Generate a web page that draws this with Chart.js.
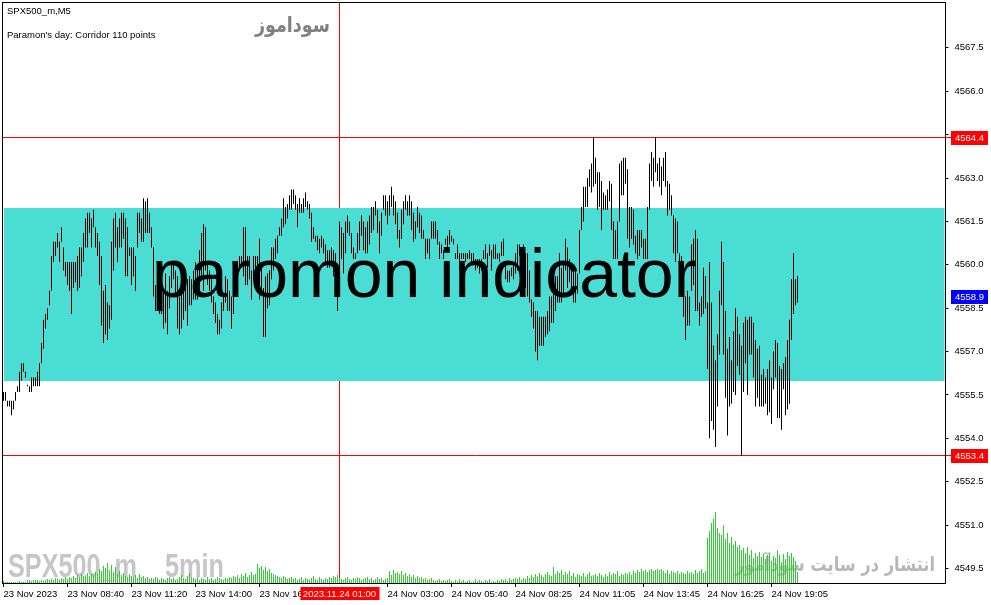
<!DOCTYPE html>
<html>
<head>
<meta charset="utf-8">
<script src="https://cdn.jsdelivr.net/npm/chart.js@4.4.1/dist/chart.umd.min.js"></script>
<style>
html, body { margin: 0; padding: 0; background: #fff; }
</style>
</head>
<body>
<canvas id="chart" width="991" height="605"></canvas>
<script>
// SPX500_m M5 bars (high / low), 23-24 Nov 2023
const highs = [
  4555.6,4555.6,4555.3,4555.3,4555.3,4555.3,4555.6,4555.8,4556.3,4556.6,
  4556.6,4556.3,4555.85,4555.8,4556.1,4556.1,4556.1,4556.3,4556.6,4557.3,
  4558.1,4558.3,4558.5,4559.1,4560.3,4560.8,4560.8,4561.1,4560.8,4561.3,
  4560.6,4560.1,4560.1,4560.1,4560.1,4560.1,4560.1,4560.3,4560.6,4560.6,
  4561.1,4561.6,4561.8,4561.8,4561.6,4561.9,4561.3,4561.1,4560.8,4560.3,
  4559.1,4559.3,4558.7,4558.6,4560.8,4561.6,4561.8,4561.3,4561.6,4561.8,
  4561.8,4561.6,4561.3,4560.6,4560.6,4560.6,4560.3,4561.8,4561.8,4561.6,
  4562.3,4562.2,4562.3,4561.8,4561.3,4560.6,4559.3,4560.1,4559.1,4558.9,
  4559.1,4559.7,4559.1,4559.6,4560.0,4560.1,4559.8,4559.6,4558.9,4559.5,
  4559.6,4559.8,4559.5,4559.6,4559.5,4559.8,4560.1,4559.9,4560.5,4561.1,
  4561.4,4561.3,4560.1,4559.8,4559.5,4558.9,4558.7,4558.3,4558.1,4558.7,
  4559.0,4559.6,4559.5,4559.1,4558.9,4558.9,4559.9,4560.1,4560.3,4560.3,
  4561.3,4561.3,4560.3,4560.3,4559.8,4560.3,4560.3,4560.3,4560.9,4559.9,
  4559.2,4559.6,4559.7,4559.8,4560.6,4560.6,4560.9,4561.0,4561.3,4561.6,
  4562.3,4562.0,4562.1,4562.4,4562.6,4562.6,4562.4,4562.1,4562.3,4562.1,
  4562.3,4562.5,4562.2,4562.1,4561.8,4561.3,4561.0,4561.0,4560.9,4561.0,
  4560.9,4560.7,4560.5,4560.5,4560.6,4560.5,4560.4,4559.8,4561.5,4561.3,
  4561.1,4561.5,4561.7,4561.5,4561.1,4560.6,4560.4,4561.1,4561.5,4561.7,
  4561.5,4561.3,4561.5,4561.7,4562.0,4562.0,4562.2,4561.9,4561.5,4561.8,
  4562.4,4562.4,4562.2,4562.4,4562.7,4562.4,4562.2,4561.8,4561.2,4561.9,
  4562.2,4562.4,4562.2,4562.4,4562.2,4561.8,4561.5,4562.0,4561.8,4561.7,
  4561.2,4560.9,4560.9,4560.9,4561.5,4561.5,4561.5,4561.2,4560.8,4560.7,
  4560.5,4560.9,4561.0,4561.2,4561.0,4560.9,4560.4,4560.7,4560.4,4560.4,
  4560.4,4560.4,4560.4,4560.5,4560.4,4560.4,4560.2,4560.2,4560.2,4560.2,
  4560.5,4560.7,4560.4,4560.7,4560.5,4560.7,4560.7,4560.4,4560.4,4560.8,
  4560.9,4560.1,4559.8,4559.8,4559.9,4560.1,4560.4,4560.7,4560.7,4560.6,
  4560.7,4560.4,4560.4,4559.8,4558.8,4558.7,4558.4,4558.4,4558.2,4558.2,
  4558.2,4558.2,4558.4,4558.9,4558.9,4559.2,4559.6,4559.6,4560.4,4559.9,
  4560.1,4560.9,4560.6,4560.2,4559.9,4559.9,4559.8,4559.7,4561.2,4562.0,
  4562.7,4562.7,4563.0,4563.3,4563.5,4564.4,4563.7,4563.2,4563.2,4562.9,
  4562.5,4562.4,4562.6,4562.9,4562.8,4561.5,4561.2,4561.5,4563.5,4563.6,
  4563.7,4563.7,4563.3,4562.0,4562.0,4561.9,4561.0,4561.2,4561.2,4561.2,
  4560.9,4560.9,4562.0,4563.5,4563.9,4563.7,4564.4,4563.5,4563.7,4563.4,
  4563.7,4563.9,4562.9,4562.8,4562.4,4561.7,4561.6,4561.5,4560.4,4560.3,
  4560.1,4558.9,4559.1,4558.9,4560.7,4560.9,4561.2,4560.9,4558.7,4558.9,
  4559.9,4559.6,4558.7,4560.1,4558.7,4557.2,4556.7,4557.6,4559.1,4560.8,
  4560.1,4558.4,4557.1,4557.5,4556.7,4557.7,4558.5,4558.2,4557.6,4557.2,
  4558.0,4558.2,4558.1,4558.2,4558.2,4558.0,4557.4,4557.1,4557.2,4556.2,
  4556.4,4556.1,4556.4,4556.7,4556.1,4557.0,4557.4,4557.3,4556.5,4556.4,
  4556.6,4556.8,4557.4,4558.1,4559.5,4560.4,4559.5,4559.6
];
const lows = [
  4555.3,4555.3,4555.1,4555.1,4554.8,4555.0,4555.3,4555.6,4555.6,4556.0,
  4556.3,4556.1,4555.8,4555.6,4555.6,4555.8,4555.8,4555.8,4555.8,4556.6,
  4557.1,4557.8,4558.1,4558.6,4559.1,4560.1,4560.3,4560.6,4560.1,4560.8,
  4559.8,4559.6,4559.3,4559.1,4558.3,4559.2,4559.4,4559.1,4559.2,4559.6,
  4560.1,4560.6,4560.6,4561.1,4560.6,4561.3,4560.6,4560.3,4559.3,4557.9,
  4557.3,4557.6,4557.4,4557.8,4558.1,4559.8,4560.6,4560.1,4560.6,4560.6,
  4560.9,4559.6,4559.6,4560.3,4559.3,4559.6,4559.1,4560.6,4561.1,4560.8,
  4560.8,4561.1,4561.1,4561.1,4560.6,4558.9,4558.4,4558.4,4558.3,4558.3,
  4557.8,4558.0,4557.6,4558.5,4559.2,4559.5,4559.0,4557.8,4557.6,4557.8,
  4558.1,4558.4,4557.9,4558.6,4558.6,4558.8,4558.8,4558.8,4559.0,4559.5,
  4559.1,4559.8,4559.3,4559.1,4558.7,4558.3,4558.0,4557.6,4557.6,4557.8,
  4558.4,4558.7,4558.4,4558.4,4557.8,4558.3,4559.3,4559.5,4559.8,4559.9,
  4559.6,4559.3,4559.3,4559.5,4558.8,4559.5,4559.5,4559.1,4558.8,4559.0,
  4557.5,4557.5,4558.5,4558.6,4559.5,4559.8,4560.2,4560.4,4561.0,4561.0,
  4561.3,4561.4,4561.6,4561.9,4561.9,4562.1,4561.9,4561.3,4561.8,4561.8,
  4561.8,4562.0,4561.9,4561.6,4560.8,4560.9,4560.8,4560.5,4560.4,4560.6,
  4560.4,4560.1,4559.9,4559.9,4560.1,4559.6,4559.5,4558.4,4558.9,4560.2,
  4559.7,4560.4,4561.1,4561.0,4560.4,4560.2,4560.2,4560.4,4560.5,4561.0,
  4560.5,4560.4,4560.4,4560.7,4561.1,4561.2,4561.7,4561.1,4560.4,4561.0,
  4561.9,4561.7,4561.4,4561.7,4562.0,4561.7,4561.4,4560.9,4560.6,4560.9,
  4561.4,4561.9,4561.7,4561.7,4561.2,4560.8,4560.9,4561.3,4561.1,4560.9,
  4560.9,4560.2,4560.4,4560.2,4560.9,4560.9,4560.9,4560.7,4560.2,4560.4,
  4560.2,4560.7,4560.5,4560.7,4560.8,4560.7,4560.2,4560.2,4559.8,4560.2,
  4560.2,4560.1,4560.2,4560.2,4560.1,4560.1,4559.8,4559.9,4559.7,4559.8,
  4560.2,4560.2,4559.9,4560.3,4559.8,4560.2,4560.2,4560.2,4560.1,4560.3,
  4560.3,4559.5,4559.4,4559.4,4559.6,4559.5,4559.7,4559.8,4560.3,4560.3,
  4560.3,4559.2,4558.9,4558.7,4558.2,4557.8,4557.0,4556.7,4557.2,4557.2,
  4557.2,4557.5,4557.6,4557.7,4558.0,4558.0,4558.4,4558.7,4558.7,4558.7,
  4559.0,4559.8,4559.2,4559.4,4559.1,4558.7,4558.7,4559.0,4559.7,4561.2,
  4561.5,4562.0,4562.0,4562.7,4562.5,4562.7,4562.8,4561.9,4562.0,4561.2,
  4561.9,4561.9,4561.9,4562.2,4561.2,4560.2,4560.2,4560.2,4561.5,4562.4,
  4562.4,4562.8,4560.9,4560.6,4560.9,4560.7,4560.4,4560.2,4560.3,4560.6,
  4560.2,4560.2,4560.2,4561.9,4562.9,4562.7,4563.2,4562.9,4562.7,4562.4,
  4562.9,4562.7,4561.7,4561.9,4561.7,4560.4,4560.1,4560.4,4559.7,4559.8,
  4558.2,4557.4,4557.9,4557.9,4559.1,4559.3,4558.4,4558.4,4557.9,4558.2,
  4558.3,4558.5,4556.4,4554.0,4554.6,4554.3,4553.7,4555.1,4556.9,4558.6,
  4556.9,4555.4,4554.1,4555.1,4555.2,4555.6,4555.5,4556.5,4556.2,4553.4,
  4555.6,4556.6,4555.5,4556.9,4556.9,4556.1,4555.1,4555.4,4555.1,4555.1,
  4555.1,4555.2,4554.8,4554.9,4554.5,4555.7,4556.1,4554.7,4554.7,4554.3,
  4555.7,4554.8,4555.0,4555.2,4557.4,4558.3,4558.6,4558.7
];
// tick volumes
const volumes = [
  2,1,1,1,1,1,1,1,2,1, 1,1,3,3,2,3,3,3,2,3, 2,3,4,3,4,3,5,4,3,5, 4,6,4,6,5,7,5,8,6,9,
  7,8,10,7,9,8,11,9,14,12, 17,15,20,13,18,11,16,9,12,8, 10,7,6,9,7,6,8,5,9,6, 7,5,6,4,5,4,6,5,3,5,
  4,3,5,6,4,5,3,4,6,8, 5,4,7,10,6,5,4,6,3,5, 4,3,6,4,5,3,4,6,5,4, 3,5,4,6,5,7,6,8,5,9,
  7,10,6,8,11,8,9,19,15,17, 13,16,12,14,10,9,8,7,6,5, 7,6,4,5,6,4,5,3,4,6, 3,5,4,3,5,7,4,3,6,4,
  3,5,4,6,5,7,6,8,5,4, 3,5,6,4,3,5,4,6,5,3, 4,5,6,4,5,3,4,6,4,5, 3,4,5,12,8,13,10,11,9,12,
  8,10,7,9,6,8,5,7,5,6, 4,5,3,4,5,3,2,3,4,2, 3,2,3,4,2,1,3,2,4,2, 3,1,2,3,1,2,4,2,3,2,
  1,3,2,4,1,2,1,3,2,4, 3,4,2,5,3,4,5,4,6,3, 5,4,7,5,8,6,9,7,10,8, 6,9,11,8,7,16,9,12,10,13,
  8,11,9,12,7,10,6,9,8,7, 10,6,9,11,7,8,9,7,10,8, 6,9,7,11,8,10,9,12,7,9, 8,10,9,11,8,12,10,13,11,14,
  12,13,11,13,14,12,13,14,13,14, 12,10,13,9,12,11,10,12,9,11, 10,9,12,10,11,9,13,10,12,14,
  10,12,45,52,60,64,71,55,50,48, 58,44,50,40,46,38,42,36,38,33, 35,30,36,28,33,25,30,27,31,26,
  29,24,28,30,22,27,25,33,28,21, 29,24,31,27,30,26,22,11
];

const barCount = 471;           // visible slots incl. empty space on the right
const priceTicks = [4549.5, 4551.0, 4552.5, 4554.0, 4555.5, 4557.0, 4558.5, 4560.0, 4561.5, 4563.0, 4564.5, 4566.0, 4567.5];
const timeTickBars = [0, 32, 64, 96, 128, 192, 224, 256, 288, 320, 352, 384];
const timeTickLabels = ['23 Nov 2023', '23 Nov 08:40', '23 Nov 11:20', '23 Nov 14:00', '23 Nov 16:40',
  '24 Nov 03:00', '24 Nov 05:40', '24 Nov 08:25', '24 Nov 11:05', '24 Nov 13:45', '24 Nov 16:25', '24 Nov 19:05'];
const corridor = [4556.0, 4561.95];
const levelHigh = 4564.4, levelLow = 4553.4, bid = 4558.9;
const separatorBar = 168, separatorLabel = '2023.11.24 01:00';

const categories = Array.from({length: barCount}, (_, i) => i);
const priceBars = highs.map((h, i) => [lows[i], h]);
const tickFont = {family: 'Liberation Sans', size: 9.5};

// draw text squeezed/stretched horizontally to a given width
function fitText(ctx, text, x, y, width, align) {
  const w = ctx.measureText(text).width;
  ctx.save();
  ctx.translate(align === 'right' ? x - width : x, y);
  ctx.scale(width / w, 1);
  ctx.textAlign = 'left';
  ctx.fillText(text, 0, 0);
  ctx.restore();
}

const overlay = {
  id: 'overlay',
  beforeDatasetsDraw(chart) {
    const {ctx, chartArea: a, scales: {x, y}} = chart;
    ctx.save();
    // level lines
    ctx.strokeStyle = '#ff0000';
    ctx.lineWidth = 1;
    ctx.beginPath();
    for (const v of [levelHigh, levelLow]) {
      const py = Math.round(y.getPixelForValue(v) - 0.5) + 0.5;
      ctx.moveTo(a.left, py); ctx.lineTo(951, py);
    }
    const sx = Math.floor(x.getPixelForValue(separatorBar)) + 0.5;
    ctx.moveTo(sx, a.top); ctx.lineTo(sx, a.bottom);
    ctx.stroke();
    // corridor box
    const t = Math.round(y.getPixelForValue(corridor[1]));
    const b = Math.round(y.getPixelForValue(corridor[0]));
    ctx.fillStyle = 'rgb(74,221,211)';
    ctx.fillRect(4, t, a.right - 4, b - t);
    // watermarks
    ctx.textBaseline = 'alphabetic';
    ctx.fillStyle = '#c6c6c6';
    ctx.font = 'bold 33px "Liberation Sans"';
    fitText(ctx, 'SPX500_m', 8, 577, 129, 'left');
    fitText(ctx, '5min', 165, 577, 59, 'left');
    ctx.fillStyle = '#b8b8b8';
    ctx.font = 'bold 20px "DejaVu Sans"';
    fitText(ctx, 'انتشار در سایت سودآموز', 935, 571, 200, 'right');
    ctx.fillStyle = '#808080';
    ctx.font = 'bold 21px "DejaVu Sans"';
    fitText(ctx, 'سوداموز', 330, 32, 75, 'right');
    ctx.restore();
  },
  afterDatasetsDraw(chart) {
    const {ctx} = chart;
    ctx.save();
    ctx.fillStyle = '#000';
    ctx.font = '68px "Liberation Sans"';
    ctx.textAlign = 'left';
    ctx.textBaseline = 'alphabetic';
    ctx.fillText('paromon indicator', 152, 297);
    ctx.restore();
  },
  afterDraw(chart) {
    const {ctx, scales: {x, y}} = chart;
    ctx.save();
    // frame
    ctx.strokeStyle = '#000';
    ctx.lineWidth = 1;
    ctx.beginPath();
    ctx.moveTo(2.5, 2); ctx.lineTo(2.5, 584);
    ctx.moveTo(2, 2.5); ctx.lineTo(946, 2.5);
    ctx.moveTo(945.5, 2); ctx.lineTo(945.5, 584);
    ctx.moveTo(2, 583.5); ctx.lineTo(946, 583.5);
    ctx.stroke();
    // price labels on the axis
    ctx.font = '9.5px "Liberation Sans"';
    ctx.textBaseline = 'middle';
    ctx.textAlign = 'left';
    const tags = [[levelHigh, '#ff0000'], [levelLow, '#ff0000'], [bid, '#0000ff']];
    for (const [v, c] of tags) {
      const py = Math.round(y.getPixelForValue(v));
      ctx.fillStyle = c;
      ctx.fillRect(951, py - 7, 37, 14);
      ctx.fillStyle = '#fff';
      ctx.fillText(v.toFixed(1), 955, py);
    }
    // separator time label
    const sx = x.getPixelForValue(separatorBar);
    ctx.fillStyle = '#ff0000';
    ctx.fillRect(sx - 39, 587, 79, 13);
    ctx.fillStyle = '#fff';
    ctx.textAlign = 'center';
    ctx.fillText(separatorLabel, sx, 594);
    // header texts
    ctx.fillStyle = '#000';
    ctx.textAlign = 'left';
    ctx.textBaseline = 'alphabetic';
    ctx.fillText('SPX500_m,M5', 7, 14);
    ctx.fillText("Paramon's day: Corridor 110 points", 7, 38);
    ctx.restore();
  }
};

new Chart(document.getElementById('chart'), {
  type: 'bar',
  data: {
    labels: categories,
    datasets: [
      {
        label: 'price',
        data: priceBars,
        yAxisID: 'y',
        backgroundColor: '#000000',
        borderColor: '#000000',
        barThickness: 1,
        grouped: false,
        inflateAmount: 0,
        borderWidth: 0,
        order: 0
      },
      {
        label: 'volume',
        data: volumes,
        yAxisID: 'yv',
        backgroundColor: '#32cd32',
        borderColor: '#32cd32',
        barThickness: 1,
        grouped: false,
        inflateAmount: 0,
        borderWidth: 0,
        order: 1
      }
    ]
  },
  options: {
    responsive: false,
    animation: false,
    events: [],
    layout: { padding: { left: 2.5, top: 3, right: 0, bottom: 0 } },
    plugins: { legend: { display: false }, tooltip: { enabled: false }, colors: { enabled: false } },
    scales: {
      x: {
        type: 'category',
        offset: true,
        afterBuildTicks: s => { s.ticks = timeTickBars.map(v => ({value: v})); },
        afterFit: s => { s.height = 22; s.paddingLeft = 0; s.paddingRight = 0; },
        ticks: {
          autoSkip: false,
          maxRotation: 0,
          align: 'start',
          padding: 2,
          color: '#000',
          font: tickFont,
          callback: (v, i) => timeTickLabels[i]
        },
        grid: { drawOnChartArea: false, offset: false, tickLength: 4, color: '#000' },
        border: { display: false }
      },
      y: {
        position: 'right',
        min: 4549.0,
        max: 4569.05,
        afterBuildTicks: s => { s.ticks = priceTicks.map(v => ({value: v})); },
        afterFit: s => { s.width = 46.5; s.paddingTop = 0; s.paddingBottom = 0; },
        ticks: { color: '#000', font: tickFont, padding: 6, callback: v => v.toFixed(1) },
        grid: { drawOnChartArea: false, tickLength: 4, color: '#000' },
        border: { display: false }
      },
      yv: {
        type: 'linear',
        axis: 'y',
        display: false,
        min: 0,
        max: 580
      }
    }
  },
  plugins: [overlay]
});
</script>
</body>
</html>
